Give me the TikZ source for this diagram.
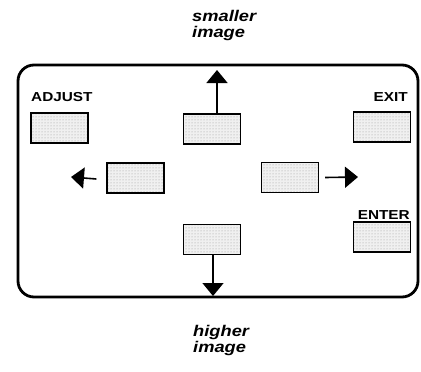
\documentclass[tikz,border=0pt]{standalone}
\usepackage{fontspec}
\newfontfamily\lblfont[FakeStretch=1.18]{Liberation Sans}
\usetikzlibrary{arrows.meta,patterns}
\begin{document}
\begin{tikzpicture}[x=1pt,y=-1pt,
  btn/.style={draw=black, line width=1.3pt, rectangle, minimum width=57pt, minimum height=30pt, inner sep=0pt,
    preaction={fill=gray!12}, pattern=dots, pattern color=gray!80},
  lbl/.style={inner sep=0pt, font=\lblfont\bfseries\fontsize{13}{13}\selectfont},
  captxt/.style={inner sep=0pt, align=left, font=\lblfont\bfseries\itshape\fontsize{15.5}{16}\selectfont},
  arr/.style={line width=1.6pt, -{Triangle[length=13pt,width=21pt]}},
  outerframe/.style={line width=2.8pt, rounded corners=16pt}]
\useasboundingbox (0,0) rectangle (421,372);
\draw[outerframe] (18,65) rectangle (418,297);
\node[btn] (adjustbtn) at (59.5,128) {};
\node[btn] (topbtn) at (212,129) {};
\node[btn] (exitbtn) at (382,127) {};
\node[btn] (leftbtn) at (135.5,178) {};
\node[btn] (rightbtn) at (290,177.5) {};
\node[btn] (botbtn) at (212,239.5) {};
\node[btn] (enterbtn) at (382,237) {};
\node[lbl, anchor=base west] (adjust) at (31,101) {ADJUST};
\node[lbl, anchor=base east] (exit) at (408,101) {EXIT};
\node[lbl, anchor=base east] (enter) at (410,219) {ENTER};
\node[captxt, anchor=north west] (smaller) at (192,10) {smaller\\image};
\node[captxt, anchor=north west] (higher) at (193,325) {higher\\image};
\coordinate (uptip) at (217,70);
\coordinate (downtip) at (213,296);
\coordinate (lefttip) at (71,177);
\coordinate (righttip) at (358,177);
\draw[arr] ([xshift=5pt]topbtn.north) -- (uptip);
\draw[arr] ([xshift=1pt]botbtn.south) -- (downtip);
\draw[arr] ([xshift=-10pt,yshift=-1pt]leftbtn.west) -- (lefttip);
\draw[arr] ([xshift=6pt]rightbtn.east) -- (righttip);
\end{tikzpicture}
\end{document}
